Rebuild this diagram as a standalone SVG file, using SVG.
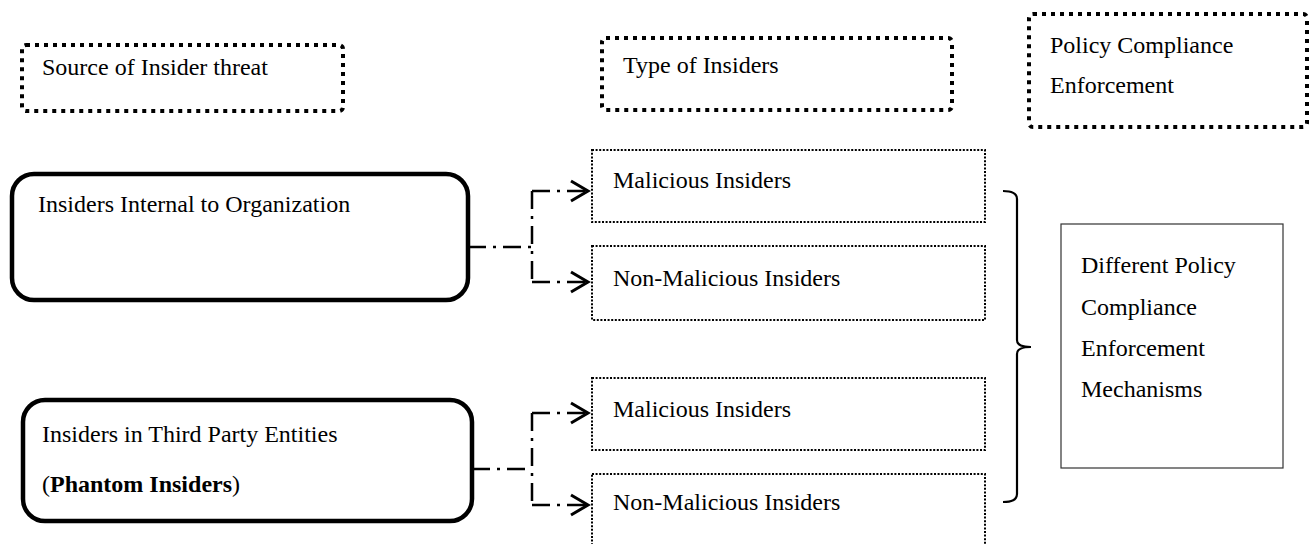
<svg xmlns="http://www.w3.org/2000/svg" width="1312" height="544" viewBox="0 0 1312 544">
  <style>
    text { font-family: "Liberation Serif", "Times New Roman", serif; font-size: 24px; fill: #000; }
    .heading { fill: none; stroke: #000; stroke-width: 4; stroke-dasharray: 4 5; }
    .source { fill: none; stroke: #000; stroke-width: 4.5; }
    .kind { fill: none; stroke: #000; stroke-width: 2; stroke-dasharray: 2 1.6; }
    .policy { fill: none; stroke: #333; stroke-width: 1.2; }
    .link { fill: none; stroke: #000; stroke-width: 2.5; stroke-dasharray: 18 7 3 7; }
    .brace { fill: none; stroke: #000; stroke-width: 2.2; }
  </style>
  <defs>
    <!-- open chevron arrowhead for the dash-dot links -->
    <marker id="chevron" viewBox="0 0 22 24" refX="19" refY="12" markerWidth="22" markerHeight="24" markerUnits="userSpaceOnUse" orient="auto">
      <path d="M2,2 L19,12 L2,22" fill="none" stroke="#000" stroke-width="3" stroke-dasharray="none"/>
    </marker>
  </defs>

  <!-- column headings -->
  <g id="heading-source">
    <rect class="heading" x="22" y="45" width="321" height="66" rx="4"/>
    <text x="42" y="75">Source of Insider threat</text>
  </g>
  <g id="heading-type">
    <rect class="heading" x="602" y="38" width="350" height="72" rx="4"/>
    <text x="623" y="73">Type of Insiders</text>
  </g>
  <g id="heading-policy">
    <rect class="heading" x="1029" y="14" width="278" height="113" rx="4"/>
    <text x="1050" y="53">Policy Compliance</text>
    <text x="1050" y="93">Enforcement</text>
  </g>

  <!-- insider sources -->
  <g id="source-internal">
    <rect class="source" x="12" y="174" width="456" height="126" rx="22"/>
    <text x="38" y="212">Insiders Internal to Organization</text>
  </g>
  <g id="source-third-party">
    <rect class="source" x="23" y="400" width="449" height="121" rx="22"/>
    <text x="42" y="442">Insiders in Third Party Entities</text>
    <text x="42" y="492">(<tspan font-weight="bold">Phantom Insiders</tspan>)</text>
  </g>

  <!-- insider types -->
  <g id="internal-malicious">
    <rect class="kind" x="592" y="150" width="393" height="72"/>
    <text x="613" y="188">Malicious Insiders</text>
  </g>
  <g id="internal-non-malicious">
    <rect class="kind" x="592" y="246" width="393" height="74"/>
    <text x="613" y="286">Non-Malicious Insiders</text>
  </g>
  <g id="third-party-malicious">
    <rect class="kind" x="592" y="378" width="393" height="72"/>
    <text x="613" y="417">Malicious Insiders</text>
  </g>
  <g id="third-party-non-malicious">
    <rect class="kind" x="592" y="474" width="393" height="80"/>
    <text x="613" y="510">Non-Malicious Insiders</text>
  </g>

  <!-- enforcement mechanisms -->
  <g id="mechanisms">
    <rect class="policy" x="1061" y="224" width="222" height="244"/>
    <text x="1081" y="273">Different Policy</text>
    <text x="1081" y="315">Compliance</text>
    <text x="1081" y="356">Enforcement</text>
    <text x="1081" y="397">Mechanisms</text>
  </g>

  <!-- connectors -->
  <g id="connectors">
    <path class="link" d="M468,247 H532 M532,191 V282"/>
    <path class="link" d="M532,191 H588" marker-end="url(#chevron)"/>
    <path class="link" d="M532,282 H588" marker-end="url(#chevron)"/>
    <path class="link" d="M472,469 H532 M532,413 V505"/>
    <path class="link" d="M532,413 H588" marker-end="url(#chevron)"/>
    <path class="link" d="M532,505 H588" marker-end="url(#chevron)"/>
    <path class="brace" d="M1003,191 Q1017,191 1017,199 V340 Q1017,347 1031,347 M1031,347 Q1017,347 1017,354 V494 Q1017,502 1003,502"/>
  </g>
</svg>
